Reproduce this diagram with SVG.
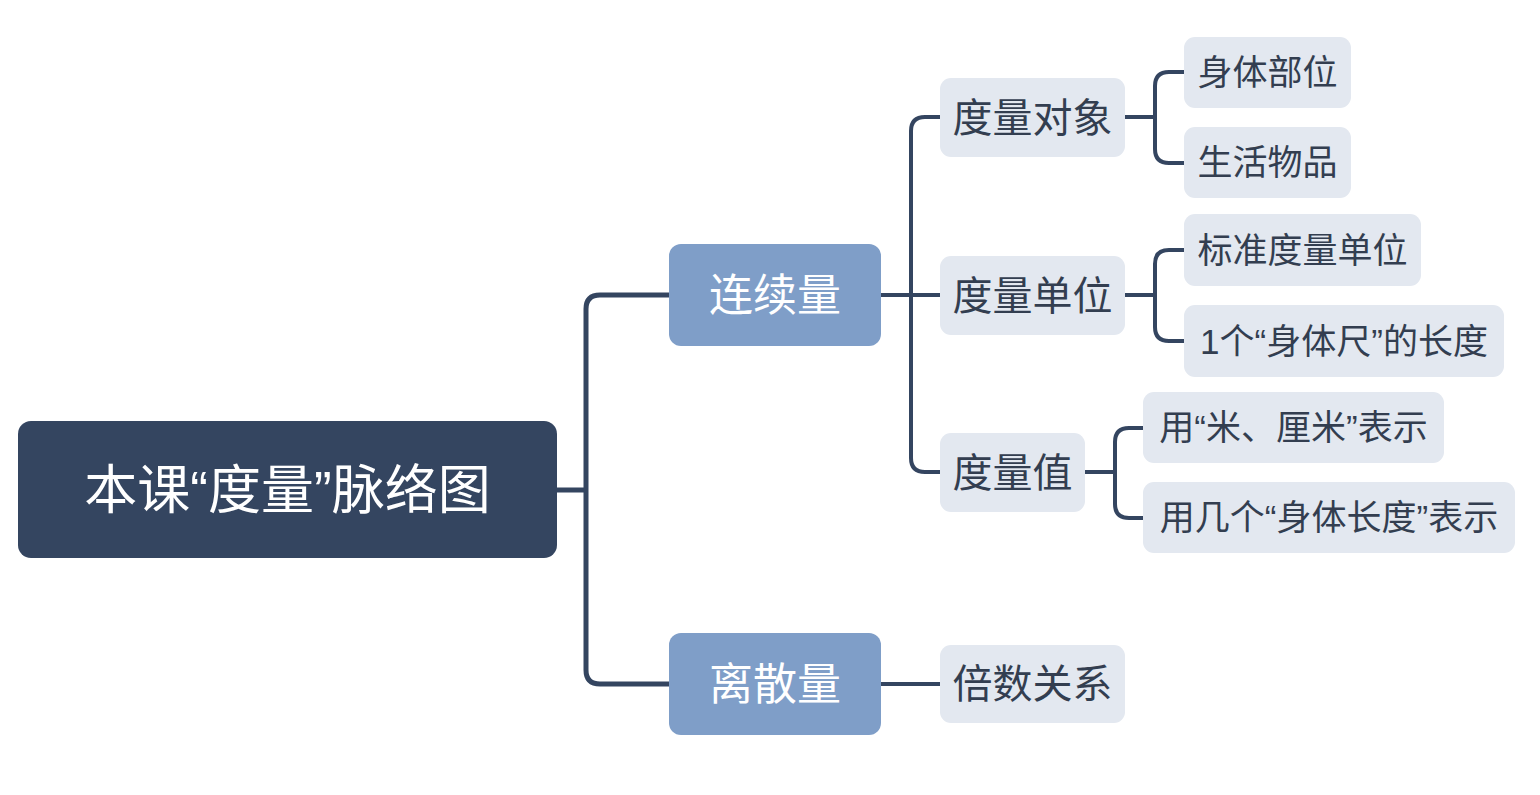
<svg xmlns="http://www.w3.org/2000/svg" width="1540" height="795" viewBox="0 0 1540 795">
<style>
text{font-family:'Liberation Sans','Noto Sans CJK SC',sans-serif;text-anchor:middle;dominant-baseline:central}
.root rect{fill:#344560}
.root text{fill:#fff;font-size:53px}
.l1 rect{fill:#7f9ec8}
.l1 text{fill:#fff;font-size:44px}
.l2 rect{fill:#e3e8f0}
.l2 text{fill:#333e50;font-size:40px}
.l3 rect{fill:#e3e8f0}
.l3 text{fill:#333e50;font-size:35px}
.c{fill:none;stroke:#344560;stroke-linecap:butt}
</style>
<rect width="1540" height="795" fill="#fff"/>
<g id="connectors">
<path class="c" stroke-width="5" d="M557,490 H586 M669,295 H600 Q586,295 586,309 V670 Q586,684 600,684 H669"/>
<path class="c" stroke-width="4" d="M881,295 H940 M940,117 H925 Q911,117 911,131 V458 Q911,472 925,472 H940"/>
<path class="c" stroke-width="4" d="M881,684 H940"/>
<path class="c" stroke-width="4" d="M1125,117 H1155 M1184,72 H1169 Q1155,72 1155,86 V149 Q1155,163 1169,163 H1184"/>
<path class="c" stroke-width="4" d="M1125,295 H1155 M1184,250 H1169 Q1155,250 1155,264 V327 Q1155,341 1169,341 H1184"/>
<path class="c" stroke-width="4" d="M1085,472 H1115 M1143,428 H1129 Q1115,428 1115,442 V504 Q1115,518 1129,518 H1143"/>
</g>
<g id="root" class="root"><rect x="18" y="421" width="539" height="137" rx="13"/><text x="287.5" y="490">本课“度量”脉络图</text></g>
<g id="n-lianxu" class="l1"><rect x="669" y="244" width="212" height="102" rx="12"/><text x="775" y="295">连续量</text></g>
<g id="n-lisan" class="l1"><rect x="669" y="633" width="212" height="102" rx="12"/><text x="775" y="684">离散量</text></g>
<g id="n-duixiang" class="l2"><rect x="940" y="78" width="185" height="79" rx="11"/><text x="1032.5" y="117.5">度量对象</text></g>
<g id="n-danwei" class="l2"><rect x="940" y="256" width="185" height="79" rx="11"/><text x="1032.5" y="295.5">度量单位</text></g>
<g id="n-zhi" class="l2"><rect x="940" y="433" width="145" height="79" rx="11"/><text x="1012.5" y="472.5">度量值</text></g>
<g id="n-beishu" class="l2"><rect x="940" y="645" width="185" height="78" rx="11"/><text x="1032.5" y="684">倍数关系</text></g>
<g id="n-shenti" class="l3"><rect x="1184" y="37" width="167" height="71" rx="11"/><text x="1267.5" y="72.5">身体部位</text></g>
<g id="n-shenghuo" class="l3"><rect x="1184" y="127" width="167" height="71" rx="11"/><text x="1267.5" y="162.5">生活物品</text></g>
<g id="n-biaozhun" class="l3"><rect x="1184" y="214" width="237" height="72" rx="11"/><text x="1302.5" y="250">标准度量单位</text></g>
<g id="n-shentichi" class="l3"><rect x="1184" y="305" width="320" height="72" rx="11"/><text x="1344" y="341">1个“身体尺”的长度</text></g>
<g id="n-mi" class="l3"><rect x="1143" y="392" width="301" height="71" rx="11"/><text x="1293.5" y="427.5">用“米、厘米”表示</text></g>
<g id="n-jige" class="l3"><rect x="1143" y="482" width="372" height="71" rx="11"/><text x="1329" y="517.5">用几个“身体长度”表示</text></g>
</svg>
